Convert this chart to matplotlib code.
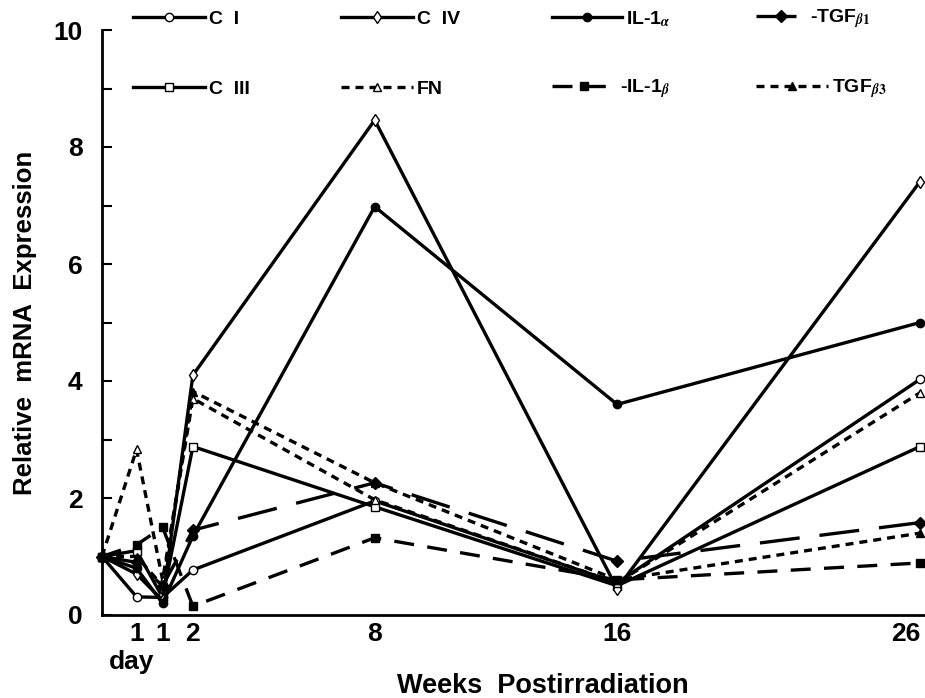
import matplotlib
matplotlib.use("Agg")
import matplotlib.pyplot as plt

plt.rcParams['font.family'] = ['Liberation Sans', 'DejaVu Sans']
plt.rcParams['font.weight'] = 'bold'
plt.rcParams['mathtext.fontset'] = 'stix'

# --- data ---
# time points: baseline, 1 day, 1 week, 2, 8, 16, 26 weeks
x_pos = [-1.0, 0.14, 1, 2, 8, 16, 26]
tick_pos = [0.14, 1, 2, 8, 16, 26]
tick_labels = ["1", "1", "2", "8", "16", "26"]

c1 = [1.0, 0.31, 0.30, 0.77, 1.95, 0.55, 4.03]
c3 = [1.0, 1.10, 0.30, 2.88, 1.85, 0.50, 2.88]
c4 = [1.0, 0.70, 0.25, 4.10, 8.46, 0.45, 7.41]
fn = [1.0, 2.83, 0.60, 3.70, 1.97, 0.55, 3.80]
il1a = [1.0, 0.80, 0.20, 1.35, 6.98, 3.60, 5.00]
il1b = [1.0, 1.20, 1.50, 0.15, 1.32, 0.60, 0.89]
tgfb1 = [1.0, 0.90, 0.50, 1.45, 2.26, 0.92, 1.58]
tgfb3 = [1.0, 1.00, 0.50, 3.82, 2.26, 0.60, 1.40]

LW = 2.4
short = (0, (2.4, 1.8))
longd = (0, (12, 6))
med = (0, (6, 4))

series = [
    # label, values, marker, filled, linestyle
    ("C  I", c1, 'o', False, '-'),
    ("C  III", c3, 's', False, '-'),
    ("C  IV", c4, 'd', False, '-'),
    ("FN", fn, '^', False, short),
    ("IL-1$_{\\alpha}$", il1a, 'o', True, '-'),
    ("-IL-1$_{\\beta}$", il1b, 's', True, med),
    ("-TGF$_{\\beta 1}$", tgfb1, 'D', True, longd),
    ("TGF$_{\\beta 3}$", tgfb3, '^', True, short),
]

fig = plt.figure(figsize=(9.25, 6.98), dpi=100)
# axes run past the right edge, like the cropped original
ax = fig.add_axes([102 / 925, 1 - 615 / 698, 29 * 30.3 / 925, (615 - 30) / 698])

handles = []
for label, vals, mk, filled, ls in series:
    ln, = ax.plot(x_pos, vals, color='black', lw=LW, linestyle=ls,
                  marker=mk, markersize=6,
                  markerfacecolor='black' if filled else 'white',
                  markeredgecolor='black', markeredgewidth=1.0,
                  clip_on=False, label=label)
    handles.append(ln)

ax.set_xlim(-1, 28)
ax.set_ylim(0, 10)
ax.spines['top'].set_visible(False)
ax.spines['right'].set_visible(False)
ax.spines['left'].set_linewidth(2)
ax.spines['bottom'].set_linewidth(2)

ax.set_yticks([0, 2, 4, 6, 8, 10])
ax.set_yticks([1, 3, 5, 7, 9], minor=True)
ax.tick_params(axis='y', which='both', direction='in', length=7, width=1.5,
               labelsize=19, pad=14)
ax.set_xticks(tick_pos)
ax.set_xticklabels(tick_labels)
ax.tick_params(axis='x', length=0, labelsize=19, pad=5)
ax.get_xticklabels()[-1].set_horizontalalignment('right')

ax.set_ylabel("Relative  mRNA  Expression", fontsize=18.5, fontweight='bold',
              labelpad=12)
fig.text(132 / 925, 1 - 662 / 698, "day", fontsize=19, fontweight='bold',
         ha='center', va='center')
fig.text(543 / 925, 1 - 686 / 698, "Weeks  Postirradiation", fontsize=19.5,
         fontweight='bold', ha='center', va='center')

# legend: one small legend per entry, 4 columns x 2 rows
col_x = [133, 341, 552, 756]
row_y = [19, 89]
hlen = [3.7, 3.7, 3.7, 3.7, 3.6, 3.3, 2.6, 3.7]
for i, h in enumerate(handles):
    cx = col_x[i // 2]
    ry = row_y[i % 2]
    leg = fig.legend(handles=[h], loc='center left',
                     bbox_to_anchor=(cx / 925, 1 - ry / 698), frameon=False,
                     fontsize=14, handlelength=hlen[i], handletextpad=0.2,
                     borderpad=0, borderaxespad=0, numpoints=1)
    for t in leg.get_texts():
        t.set_fontweight('bold')

fig.savefig("out.png", dpi=100)
